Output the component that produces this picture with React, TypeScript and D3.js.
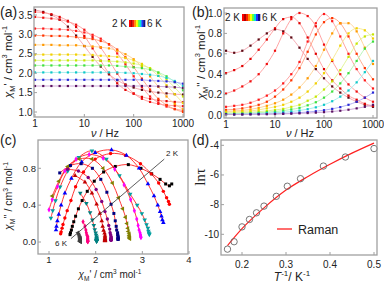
import React from "react";
import * as d3 from "d3";

// frequencies (Hz), 6 per decade
const freq = [1, 1.47, 2.15, 3.16, 4.64, 6.81, 10, 14.7, 21.5, 31.6, 46.4, 68.1, 100, 147, 215, 316, 464, 681, 1000];

// chi' (cm3 mol-1), 2 K -> 6 K
const chiRe2K = [3.63, 3.58, 3.5, 3.38, 3.2, 2.97, 2.7, 2.42, 2.17, 1.97, 1.82, 1.71, 1.63, 1.57, 1.53, 1.5, 1.48, 1.46, 1.45];
const chiRe2p3K = [3.58, 3.56, 3.52, 3.45, 3.35, 3.19, 2.96, 2.64, 2.32, 1.99, 1.74, 1.57, 1.47, 1.39, 1.34, 1.3, 1.28, 1.26, 1.25];
const chiRe2p6K = [3.45, 3.43, 3.41, 3.38, 3.33, 3.25, 3.12, 2.93, 2.66, 2.34, 1.99, 1.7, 1.48, 1.34, 1.26, 1.21, 1.18, 1.16, 1.15];
const chiRe3K = [3.15, 3.15, 3.14, 3.13, 3.12, 3.09, 3.05, 2.99, 2.89, 2.74, 2.51, 2.23, 1.92, 1.64, 1.4, 1.24, 1.14, 1.08, 1.04];
const chiRe3p3K = [2.97, 2.97, 2.96, 2.96, 2.95, 2.93, 2.91, 2.88, 2.83, 2.75, 2.61, 2.41, 2.16, 1.86, 1.58, 1.34, 1.18, 1.07, 1.0];
const chiRe3p6K = [2.73, 2.73, 2.73, 2.72, 2.72, 2.72, 2.7, 2.69, 2.67, 2.64, 2.58, 2.49, 2.36, 2.16, 1.92, 1.65, 1.4, 1.21, 1.07];
const chiRe4K = [2.48, 2.48, 2.48, 2.48, 2.48, 2.48, 2.47, 2.47, 2.45, 2.44, 2.42, 2.39, 2.33, 2.24, 2.11, 1.93, 1.69, 1.46, 1.23];
const chiRe4p3K = [2.33, 2.33, 2.33, 2.33, 2.33, 2.33, 2.33, 2.33, 2.32, 2.31, 2.3, 2.28, 2.25, 2.2, 2.13, 2.01, 1.84, 1.63, 1.4];
const chiRe4p6K = [2.2, 2.2, 2.2, 2.2, 2.2, 2.2, 2.2, 2.2, 2.2, 2.2, 2.19, 2.17, 2.15, 2.13, 2.09, 2.02, 1.92, 1.77, 1.56];
const chiRe5K = [2.02, 2.02, 2.02, 2.02, 2.02, 2.02, 2.02, 2.02, 2.02, 2.02, 2.02, 2.01, 2.0, 1.98, 1.96, 1.93, 1.88, 1.8, 1.67];
const chiRe5p5K = [1.83, 1.83, 1.83, 1.83, 1.83, 1.83, 1.83, 1.83, 1.83, 1.83, 1.83, 1.83, 1.83, 1.83, 1.81, 1.8, 1.79, 1.77, 1.73];
const chiRe6K = [1.67, 1.67, 1.67, 1.67, 1.67, 1.67, 1.67, 1.67, 1.67, 1.67, 1.67, 1.67, 1.67, 1.67, 1.67, 1.66, 1.65, 1.64, 1.62];

// chi'' (cm3 mol-1), 2 K -> 6 K
const chiIm2K = [0.63, 0.61, 0.63, 0.68, 0.74, 0.8, 0.84, 0.82, 0.76, 0.66, 0.55, 0.45, 0.36, 0.28, 0.22, 0.17, 0.13, 0.1, 0.08];
const chiIm2p3K = [0.41, 0.44, 0.48, 0.55, 0.64, 0.74, 0.85, 0.94, 0.96, 0.9, 0.76, 0.6, 0.45, 0.34, 0.26, 0.19, 0.15, 0.11, 0.09];
const chiIm2p6K = [0.21, 0.24, 0.28, 0.33, 0.4, 0.5, 0.63, 0.8, 0.94, 1.0, 0.97, 0.87, 0.69, 0.53, 0.4, 0.3, 0.23, 0.17, 0.13];
const chiIm3K = [0.08, 0.09, 0.1, 0.12, 0.15, 0.19, 0.24, 0.31, 0.4, 0.52, 0.72, 0.9, 0.99, 0.92, 0.77, 0.6, 0.45, 0.34, 0.26];
const chiIm3p3K = [0.05, 0.055, 0.065, 0.08, 0.1, 0.13, 0.18, 0.25, 0.34, 0.46, 0.62, 0.79, 0.91, 0.95, 0.9, 0.77, 0.6, 0.46, 0.35];
const chiIm3p6K = [0.035, 0.04, 0.045, 0.055, 0.07, 0.09, 0.115, 0.15, 0.2, 0.27, 0.36, 0.48, 0.64, 0.8, 0.9, 0.9, 0.82, 0.66, 0.5];
const chiIm4K = [0.028, 0.03, 0.035, 0.04, 0.05, 0.065, 0.08, 0.1, 0.13, 0.17, 0.23, 0.31, 0.41, 0.54, 0.68, 0.8, 0.85, 0.83, 0.75];
const chiIm4p3K = [0.018, 0.02, 0.024, 0.028, 0.033, 0.04, 0.05, 0.06, 0.08, 0.1, 0.14, 0.18, 0.25, 0.33, 0.44, 0.57, 0.7, 0.77, 0.79];
const chiIm4p6K = [0.012, 0.013, 0.015, 0.018, 0.022, 0.028, 0.034, 0.042, 0.055, 0.07, 0.095, 0.125, 0.17, 0.23, 0.31, 0.41, 0.53, 0.65, 0.72];
const chiIm5K = [0.008, 0.009, 0.01, 0.012, 0.015, 0.018, 0.022, 0.027, 0.034, 0.044, 0.057, 0.075, 0.1, 0.135, 0.18, 0.24, 0.32, 0.42, 0.53];
const chiIm5p5K = [0.006, 0.006, 0.007, 0.008, 0.009, 0.01, 0.012, 0.015, 0.018, 0.023, 0.029, 0.037, 0.047, 0.06, 0.077, 0.1, 0.13, 0.17, 0.22];
const chiIm6K = [0.005, 0.005, 0.005, 0.006, 0.007, 0.008, 0.009, 0.011, 0.013, 0.016, 0.019, 0.023, 0.028, 0.034, 0.042, 0.052, 0.065, 0.08, 0.1];

// (d) relaxation times
const invT = [0.167, 0.182, 0.2, 0.217, 0.233, 0.25, 0.278, 0.303, 0.333, 0.385, 0.435, 0.5];
const lnTau = [-11.0, -10.5, -9.5, -9.0, -8.55, -8.1, -7.44, -6.76, -6.25, -5.4, -4.79, -4.22];
const ramanX = [0.167, 0.2, 0.25, 0.3, 0.35, 0.4, 0.45, 0.5];
const ramanY = [-10.76, -9.62, -8.22, -7.02, -6.1, -5.28, -4.53, -3.85];

// tick labels
const freqTicks = [1, 10, 100, 1000];
const reTicks = [1.0, 1.5, 2.0, 2.5, 3.0, 3.5];
const imTicks = [0.0, 0.2, 0.4, 0.6, 0.8, 1.0];
const coleXTicks = [1, 2, 3, 4];
const coleYTicks = [0.0, 0.4, 0.8];
const invTTicks = [0.2, 0.3, 0.4, 0.5];
const lnTauTicks = [-4, -6, -8, -10];

const reAll = [chiRe2K, chiRe2p3K, chiRe2p6K, chiRe3K, chiRe3p3K, chiRe3p6K, chiRe4K, chiRe4p3K, chiRe4p6K, chiRe5K, chiRe5p5K, chiRe6K];
const imAll = [chiIm2K, chiIm2p3K, chiIm2p6K, chiIm3K, chiIm3p3K, chiIm3p6K, chiIm4K, chiIm4p3K, chiIm4p6K, chiIm5K, chiIm5p5K, chiIm6K];

const dotColors = ["#5a0a14", "#e00000", "#f01010", "#ff1a1a", "#ff3300", "#ff9a00", "#f2d000", "#c8e600", "#3ee03e", "#10c8c8", "#2828d8", "#5a1060"];
const lineColors = ["#f4a0aa", "#ff9a9a", "#ff9a9a", "#ff9a9a", "#ffa080", "#ffd090", "#f4e890", "#e0f490", "#b0f4b0", "#a0ecec", "#a8a8f4", "#c8a0d4"];
const legendBar = ["#ff0000", "#b00000", "#ff2000", "#ff9000", "#ffff00", "#60ff40", "#00e0e0", "#2030ff", "#101080"];
const coleColors = ["#000000", "#ff0000", "#0000ff", "#00a0a0", "#ff00ff", "#808000", "#000080", "#800080", "#c00000", "#008080", "#ff0080", "#404040"];

const FONT = "Liberation Sans, Arial, sans-serif";
const FRAME = "#a0a0a0";
const TXT = "#222";

const fmt1 = d3.format(".1f");

function Frame({ x0, x1, y0, y1 }) {
  return <rect x={x0} y={y0} width={x1 - x0} height={y1 - y0} fill="none" stroke={FRAME} strokeWidth={1.3} />;
}

function XTicks({ scale, values, y, labelY, fmt, size = 10 }) {
  return (
    <g>
      {values.map((v) => (
        <g key={v}>
          <line x1={scale(v)} x2={scale(v)} y1={y} y2={y - 3} stroke={FRAME} />
          <text x={scale(v)} y={labelY} fontSize={size} textAnchor="middle" fill={TXT}>{fmt(v)}</text>
        </g>
      ))}
    </g>
  );
}

function YTicks({ scale, values, x, labelX, fmt, size = 10 }) {
  return (
    <g>
      {values.map((v) => (
        <g key={v}>
          <line x1={x} x2={x + 3} y1={scale(v)} y2={scale(v)} stroke={FRAME} />
          <text x={labelX} y={scale(v)} dy="0.35em" fontSize={size} textAnchor="end" fill={TXT}>{fmt(v)}</text>
        </g>
      ))}
    </g>
  );
}

function ChiLabel({ x, y, prime, size, rotate }) {
  return (
    <text x={x} y={y} fontSize={size} textAnchor="middle" fill={TXT} transform={rotate ? `rotate(-90 ${x} ${y})` : undefined}>
      <tspan fontStyle="italic">χ</tspan>
      <tspan fontSize={size * 0.65} dy={size * 0.3}>M</tspan>
      <tspan dy={-size * 0.3}>{prime} / cm</tspan>
      <tspan fontSize={size * 0.65} dy={-size * 0.4}>3</tspan>
      <tspan dy={size * 0.4}> mol</tspan>
      <tspan fontSize={size * 0.65} dy={-size * 0.4}>-1</tspan>
    </text>
  );
}

function ColorLegend({ x, y, w, h }) {
  const seg = w / legendBar.length;
  return (
    <g>
      <text x={x - 2} y={y + h - 0.5} fontSize={10} textAnchor="end" fill={TXT}>2 K</text>
      {legendBar.map((c, i) => (
        <rect key={i} x={x + i * seg} y={y} width={seg + 0.3} height={h} fill={c} />
      ))}
      <text x={x + w + 2} y={y + h - 0.5} fontSize={10} fill={TXT}>6 K</text>
    </g>
  );
}

export default function App() {
  // panel (a)
  const xa = d3.scaleLog().domain([1, 1000]).range([35, 183]);
  const ya = d3.scaleLinear().domain([1, 3.5]).range([112, 15]);
  // panel (b)
  const xb = d3.scaleLog().domain([1, 1000]).range([226, 373]);
  const yb = d3.scaleLinear().domain([0, 1]).range([115, 13]);
  // panel (c)
  const xc = d3.scaleLinear().domain([1, 4]).range([49, 189]);
  const yc = d3.scaleLinear().domain([0, 0.8]).range([242, 168.3]);
  // panel (d)
  const xd = d3.scaleLinear().domain([0.2, 0.5]).range([242, 374]);
  const yd = d3.scaleLinear().domain([-10, -4]).range([234.3, 145.3]);

  const lineA = d3.line<number>().x((_, i) => xa(freq[i])).y((v) => ya(v)).curve(d3.curveMonotoneX);
  const lineB = d3.line<number>().x((_, i) => xb(freq[i])).y((v) => yb(v)).curve(d3.curveMonotoneX);
  const lineC = d3.line<[number, number]>().x((d) => xc(d[0])).y((d) => yc(d[1])).curve(d3.curveCatmullRom.alpha(0.5));
  const lineD = d3.line<number>().x((_, i) => xd(ramanX[i])).y((v) => yd(v)).curve(d3.curveMonotoneX);

  const symTypes = [d3.symbolSquare, d3.symbolCircle, d3.symbolTriangle, d3.symbolTriangle, d3.symbolDiamond, d3.symbolTriangle];
  const symRot = [0, 0, 0, 180, 0, 270];

  return (
    <svg width={384} height={284} style={{ position: "fixed", left: 0, top: 0, background: "#fff" }} fontFamily={FONT}>
      <rect x={0} y={0} width={384} height={284} fill="#fff" />

      {/* (a) */}
      <g>
        {reAll.map((s, k) => (
          <path key={k} d={lineA(s)} fill="none" stroke={lineColors[k]} strokeWidth={0.9} />
        ))}
        {reAll.map((s, k) =>
          s.map((v, i) => (
            <rect key={k + "-" + i} x={xa(freq[i]) - 1.1} y={ya(v) - 1.1} width={2.2} height={2.2} fill={dotColors[k]} />
          ))
        )}
        <Frame x0={34} x1={184} y0={7} y1={117} />
        <XTicks scale={xa} values={freqTicks} y={117} labelY={127} fmt={(v) => String(v)} />
        <YTicks scale={ya} values={reTicks} x={34} labelX={32.5} fmt={fmt1} />
        <ColorLegend x={129} y={20} w={16} h={7} />
        <ChiLabel x={12} y={62} prime="'" size={11.5} rotate />
        <text x={105} y={137} fontSize={11} textAnchor="middle" fill={TXT}>
          <tspan fontStyle="italic">ν</tspan> / Hz
        </text>
        <text x={0} y={17} fontSize={14} fill={TXT}>(a)</text>
      </g>

      {/* (b) */}
      <g>
        {imAll.map((s, k) => (
          <path key={k} d={lineB(s)} fill="none" stroke={lineColors[k]} strokeWidth={0.9} />
        ))}
        {imAll.map((s, k) =>
          s.map((v, i) => (
            <rect key={k + "-" + i} x={xb(freq[i]) - 1.1} y={yb(v) - 1.1} width={2.2} height={2.2} fill={dotColors[k]} />
          ))
        )}
        <Frame x0={224} x1={377} y0={8} y1={118} />
        <XTicks scale={xb} values={freqTicks} y={118} labelY={128} fmt={(v) => String(v)} />
        <YTicks scale={yb} values={imTicks} x={224} labelX={222} fmt={fmt1} />
        <ColorLegend x={242} y={14} w={18} h={7} />
        <ChiLabel x={205} y={62} prime="''" size={11.5} rotate />
        <text x={300} y={137} fontSize={11} textAnchor="middle" fill={TXT}>
          <tspan fontStyle="italic">ν</tspan> / Hz
        </text>
        <text x={192} y={17} fontSize={14} fill={TXT}>(b)</text>
      </g>

      {/* (c) */}
      <g>
        {reAll.map((s, k) => (
          <path key={k} d={lineC(s.map((v, i) => [v, imAll[k][i]] as [number, number]))} fill="none" stroke="#ff2020" strokeWidth={0.9} />
        ))}
        {reAll.map((s, k) =>
          s.map((v, i) => (
            <path
              key={k + "-" + i}
              d={d3.symbol().type(symTypes[k % symTypes.length]).size(9)() as string}
              transform={`translate(${xc(v)},${yc(imAll[k][i])}) rotate(${symRot[k % symRot.length]})`}
              fill={coleColors[k]}
            />
          ))
        )}
        <line x1={xc(1.47)} y1={yc(0.036)} x2={xc(3.47)} y2={yc(0.9)} stroke="#333" strokeWidth={0.8} />
        <text x={166} y={156} fontSize={8} fill={TXT}>2 K</text>
        <text x={55} y={246} fontSize={8} fill={TXT}>6 K</text>
        <Frame x0={38} x1={188} y0={140} y1={254} />
        <XTicks scale={xc} values={coleXTicks} y={254} labelY={263} fmt={(v) => String(v)} size={9.5} />
        <YTicks scale={yc} values={coleYTicks} x={38} labelX={36} fmt={fmt1} size={9.5} />
        <ChiLabel x={12} y={196} prime="''" size={10.5} rotate />
        <ChiLabel x={110} y={278} prime="'" size={10} />
        <text x={0} y={145} fontSize={14} fill={TXT}>(c)</text>
      </g>

      {/* (d) */}
      <g>
        <path d={lineD(ramanY)} fill="none" stroke="#ff2020" strokeWidth={1.2} />
        {invT.map((v, i) => (
          <circle key={i} cx={xd(v)} cy={yd(lnTau[i])} r={3.2} fill="none" stroke="#666" strokeWidth={0.9} />
        ))}
        <line x1={277} x2={292} y1={229} y2={229} stroke="#ff2020" strokeWidth={1.3} />
        <text x={298} y={233.5} fontSize={12.5} fill={TXT}>Raman</text>
        <Frame x0={221} x1={377} y0={140} y1={255} />
        <XTicks scale={xd} values={invTTicks} y={255} labelY={268} fmt={fmt1} />
        <YTicks scale={yd} values={lnTauTicks} x={221} labelX={219} fmt={(v) => String(v)} />
        <text x={205} y={177} fontSize={15} textAnchor="middle" fill={TXT} fontFamily="Liberation Serif, Times New Roman, serif" transform="rotate(-90 205 177)">lnτ</text>
        <text x={292} y={281} fontSize={12} textAnchor="middle" fill={TXT}>
          <tspan fontStyle="italic">T</tspan>
          <tspan fontSize={8} dy={-5}>-1</tspan>
          <tspan dy={5}>/ K</tspan>
          <tspan fontSize={8} dy={-5}>-1</tspan>
        </text>
        <text x={192} y={145} fontSize={14} fill={TXT}>(d)</text>
      </g>
    </svg>
  );
}
